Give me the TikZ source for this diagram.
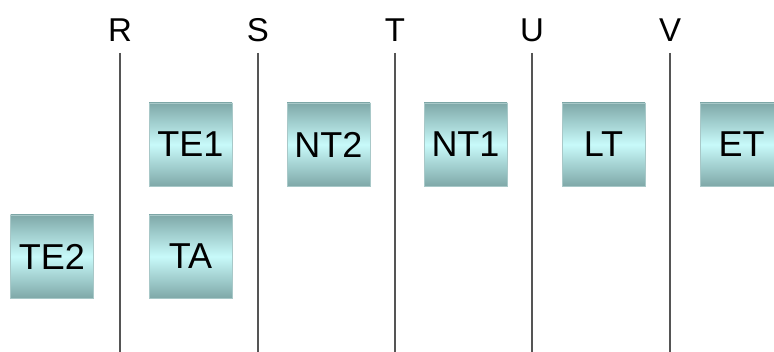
\documentclass[tikz,border=0pt]{standalone}
\usepackage{fontspec}
\setmainfont{Liberation Sans}
\definecolor{boxedge}{HTML}{7FA8A8}
\definecolor{boxmid}{HTML}{C8FAFA}
\definecolor{boxline}{HTML}{A8C8C8}
\definecolor{axisline}{HTML}{555555}
\tikzset{
  tbox/.style={minimum width=83pt, minimum height=83pt, inner sep=0pt,
    top color=boxedge, bottom color=boxedge, middle color=boxmid,
    draw=boxline, line width=0.6pt, font=\fontsize{36}{40}\selectfont},
  lbl/.style={font=\fontsize{33}{36}\selectfont, inner sep=0pt},
  axis/.style={draw=axisline, line width=2pt}
}
\begin{document}
\begin{tikzpicture}[x=1pt,y=-1pt]
\useasboundingbox (0,0) rectangle (774,352);
\clip (0,0) rectangle (774,352);
\fill[white] (0,0) rectangle (774,352);
\foreach \n/\x in {R/120,S/258,T/395,U/532,V/670}{
  \node[lbl] (\n) at (\x,30) {\n};
  \coordinate (\n t) at (\x,53);
  \coordinate (\n b) at (\x,352);
  \draw[axis] (\n t) -- (\n b);
}
\node[tbox] (TE1) at (190.5,144.5) {TE1};
\node[tbox] (TA) at (190.5,256.5) {TA};
\node[tbox] (TE2) at (52,256.5) {TE2};
\node[tbox] (NT2) at (328.5,144.5) {NT2};
\node[tbox] (NT1) at (465.5,144.5) {NT1};
\node[tbox] (LT) at (603.5,144.5) {LT};
\node[tbox] (ET) at (741.5,144.5) {ET};
\end{tikzpicture}
\end{document}
